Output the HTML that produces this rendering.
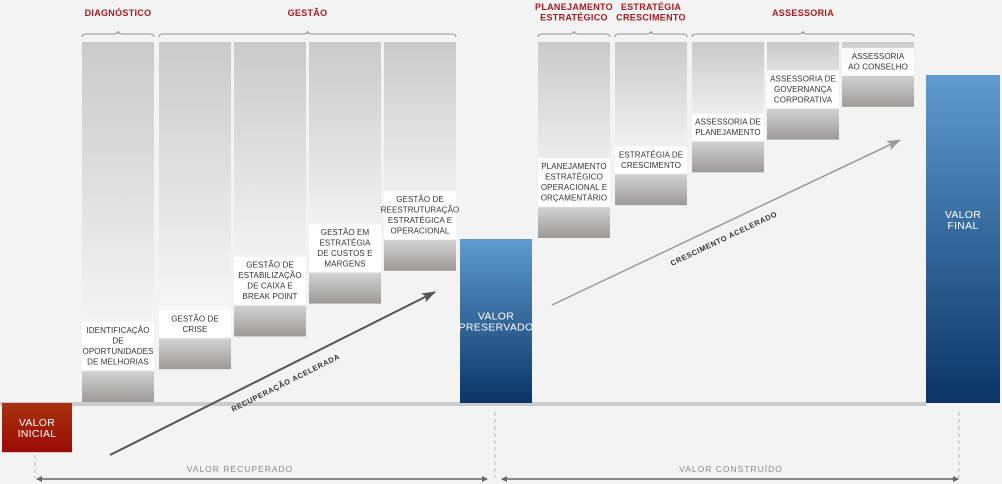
<!DOCTYPE html>
<html><head><meta charset="utf-8">
<style>
html,body{margin:0;padding:0;background:#f3f3f3;}
svg{display:block;font-family:"Liberation Sans",sans-serif;}
</style></head>
<body>
<svg id="chart" width="1002" height="484" viewBox="0 0 1002 484">
<defs>
<linearGradient id="colBg" x1="0" y1="0" x2="0" y2="1"><stop offset="0" stop-color="#cacaca"/><stop offset="1" stop-color="#fbfbfb"/></linearGradient>
<linearGradient id="step" x1="0" y1="0" x2="0" y2="1"><stop offset="0" stop-color="#d2d2d2"/><stop offset="1" stop-color="#9c9a99"/></linearGradient>
<linearGradient id="blue" x1="0" y1="0" x2="0" y2="1"><stop offset="0" stop-color="#5f9bd0"/><stop offset="1" stop-color="#0a3566"/></linearGradient>
<linearGradient id="red" x1="0" y1="0" x2="0" y2="1"><stop offset="0" stop-color="#a8330f"/><stop offset="1" stop-color="#9a0a05"/></linearGradient>
<marker id="ah" markerUnits="userSpaceOnUse" markerWidth="14" markerHeight="10" refX="13" refY="5" orient="auto"><path d="M0,0 L14,5 L0,10 L3,5 Z" fill="#555"/></marker>
<marker id="ah2" markerUnits="userSpaceOnUse" markerWidth="14" markerHeight="10" refX="13" refY="5" orient="auto"><path d="M0,0 L14,5 L0,10 L3,5 Z" fill="#999"/></marker>
<marker id="sa" markerUnits="userSpaceOnUse" markerWidth="6" markerHeight="6" refX="5" refY="3" orient="auto"><path d="M0,0 L6,3 L0,6 Z" fill="#666"/></marker>
<marker id="sb" markerUnits="userSpaceOnUse" markerWidth="6" markerHeight="6" refX="1" refY="3" orient="auto"><path d="M6,0 L0,3 L6,6 Z" fill="#666"/></marker>
</defs>
<g id="layer"></g>
</svg>
<script>
// data
const categories = ["IDENTIFICAÇÃO|DE|OPORTUNIDADES|DE MELHORIAS","GESTÃO DE|CRISE","GESTÃO DE|ESTABILIZAÇÃO|DE CAIXA E|BREAK POINT","GESTÃO EM|ESTRATÉGIA|DE CUSTOS E|MARGENS","GESTÃO DE|REESTRUTURAÇÃO|ESTRATÉGICA E|OPERACIONAL","PLANEJAMENTO|ESTRATÉGICO|OPERACIONAL E|ORÇAMENTÁRIO","ESTRATÉGIA DE|CRESCIMENTO","ASSESSORIA DE|PLANEJAMENTO","ASSESSORIA DE|GOVERNANÇA|CORPORATIVA","ASSESSORIA|AO CONSELHO"];
const increments = [1,1,1,1,1,1,1,1,1,1];
const initialValue = -1.5;
const preservedValue = 5;
const finalValue = 10;
const groups = ["DIAGNÓSTICO","GESTÃO","PLANEJAMENTO|ESTRATÉGICO","ESTRATÉGIA|CRESCIMENTO","ASSESSORIA"];
const groupSpans = [[0,0],[1,4],[5,5],[6,6],[7,9]];

const NS="http://www.w3.org/2000/svg";
const L=document.getElementById('layer');
function mk(tag,attrs,parent){const e=document.createElementNS(NS,tag);for(const k in attrs)e.setAttribute(k,attrs[k]);(parent||L).appendChild(e);return e;}
const baseY=403, k=32.8;
function y(v){return baseY - v*k;}
const colX=[82,159,234,309,384,538,615,692,767,842], colW=72, topY=42;

let e=mk('rect',{x:0,y:402,width:926,height:4,fill:'#cbcbcb'});



let cum=0;
categories.forEach((c,i)=>{
  const x=colX[i];
  const v0=cum, v1=cum+increments[i]; cum=v1;
  const g=mk('g',{});
  
  
  mk('rect',{x:x,y:topY,width:colW,height:y(v1)-topY,fill:'url(#colBg)'},g);
  const lines=c.split('|');
  const lh=10.5, h=lines.length*lh+6;
  mk('rect',{x:x,y:y(v1)-h,width:colW,height:h,fill:'#ffffff',opacity:0.85},g);
  const b=mk('rect',{x:x,y:y(v1)+1,width:colW,height:(v1-v0)*k-2,fill:'url(#step)'},g);
  
  
  const t=mk('text',{x:x+colW/2,y:y(v1)-h+11,'text-anchor':'middle','font-size':'8','fill':'#333','letter-spacing':'0.1'},g);
  
  
  lines.forEach((ln,j)=>{const s=mk('tspan',{x:x+colW/2,dy:j?lh:0},t);s.textContent=ln;});
  if(i===4) cum=preservedValue;
});

function bigBar(x,w,v0,v1,fill,label,name,ty){
  const g=mk('g',{});
  
  
  const yt=Math.min(y(v0),y(v1)), yb=Math.max(y(v0),y(v1));
  mk('rect',{x:x,y:yt,width:w,height:yb-yt,fill:fill},g);
  const lines=label.split('|');
  const cy=yt+(yb-yt)*ty-((lines.length-1)*11)/2+4;
  const t=mk('text',{x:x+w/2,y:cy,'text-anchor':'middle','font-size':'10.5','fill':'#fff','letter-spacing':'0.3'},g);
  lines.forEach((ln,j)=>{const s=mk('tspan',{x:x+w/2,dy:j?11:0},t);s.textContent=ln;});
}
bigBar(2,70,0,initialValue,'url(#red)','VALOR|INICIAL','valor-inicial-bar',0.5);
bigBar(460,72,0,preservedValue,'url(#blue)','VALOR|PRESERVADO','valor-preservado-bar',0.5);
bigBar(926,74,0,finalValue,'url(#blue)','VALOR|FINAL','valor-final-bar',0.44);

groups.forEach((gname,i)=>{
  const x0=colX[groupSpans[i][0]], x1=colX[groupSpans[i][1]]+colW, cx=(x0+x1)/2;
  const g=mk('g',{});
  
  
  const lines=gname.split('|');
  const t=mk('text',{x:cx,y:lines.length>1?10:16,'text-anchor':'middle','font-size':'9','font-weight':'bold','fill':'#a51b1f','letter-spacing':'0.3'},g);
  lines.forEach((ln,j)=>{const s=mk('tspan',{x:cx,dy:j?10.5:0},t);s.textContent=ln;});
  mk('path',{d:`M${x0} 37 Q${x0} 34 ${x0+4} 34 L${cx-4} 34 Q${cx} 34 ${cx} 31 Q${cx} 34 ${cx+4} 34 L${x1-4} 34 Q${x1} 34 ${x1} 37`,fill:'none',stroke:'#777','stroke-width':'0.8'},g);
});

e=mk('line',{x1:110,y1:455,x2:435,y2:292,stroke:'#555','stroke-width':'2','marker-end':'url(#ah)'});


e=mk('text',{x:0,y:0,'font-size':'7.5','font-weight':'bold','fill':'#333','letter-spacing':'0.6',transform:'translate(233,412) rotate(-26.6)'});
e.textContent='RECUPERAÇÃO ACELERADA';


e=mk('line',{x1:552,y1:305,x2:900,y2:140,stroke:'#999','stroke-width':'1.5','marker-end':'url(#ah2)'});


e=mk('text',{x:0,y:0,'font-size':'7.5','font-weight':'bold','fill':'#333','letter-spacing':'0.6',transform:'translate(672,266) rotate(-25.4)'});
e.textContent='CRESCIMENTO ACELERADO';



[[35,455],[495,412],[959,412]].forEach(([x,y0],i)=>{
  const d=mk('line',{x1:x,y1:y0,x2:x,y2:478,stroke:'#bbb','stroke-width':'1','stroke-dasharray':'4,3'});
  
  
});
function span(x0,x1,tx,label,name){
  const g=mk('g',{});
  
  
  mk('line',{x1:x0,y1:479,x2:x1,y2:479,stroke:'#666','stroke-width':'1.5','marker-start':'url(#sb)','marker-end':'url(#sa)'},g);
  const t=mk('text',{x:tx,y:472,'text-anchor':'middle','font-size':'8.5','fill':'#8a8a8a','letter-spacing':'1'},g);
  t.textContent=label;
}
span(37,487,240,'VALOR RECUPERADO','valor-recuperado-span');
span(502,958,731,'VALOR CONSTRUÍDO','valor-construido-span');
</script>
</body></html>
